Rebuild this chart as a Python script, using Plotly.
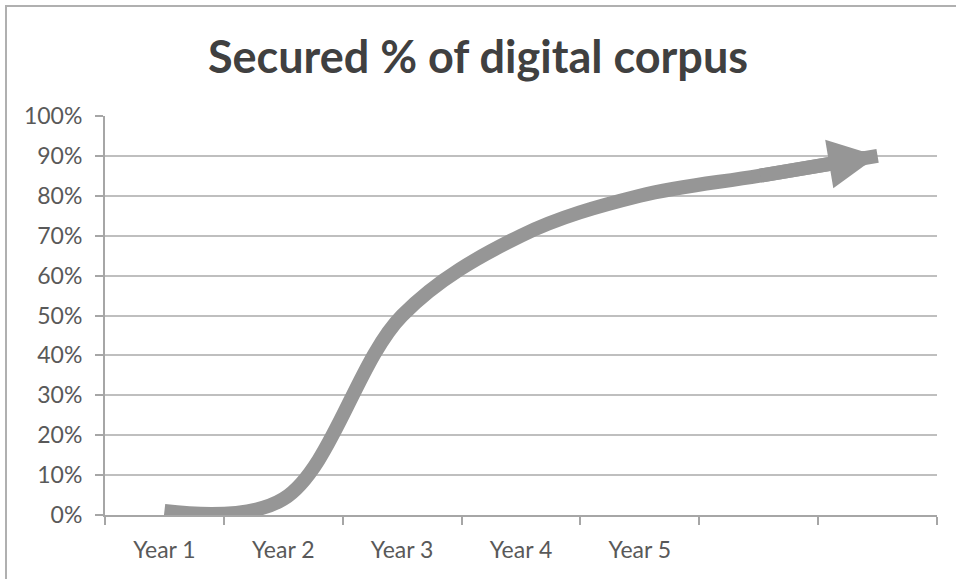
import plotly.graph_objects as go

categories = ["Year 1", "Year 2", "Year 3", "Year 4", "Year 5", " ", "  "]
secured = [0.01, 0.04, 0.50, 0.70, 0.80, 0.85, 0.90]
y_ticks = [i / 10 for i in range(11)]
title_text = "Secured % of digital corpus"

LINE_GRAY = "#969696"
GRID = "#bfbfbf"
AXIS = "#a6a6a6"
TXT = "#595959"
LINE_W = 14

n = len(secured)
backoffs = [0] * (n - 1) + [30]

fig = go.Figure()
fig.add_trace(go.Scatter(
    x=categories, y=secured, mode="lines",
    line=dict(color=LINE_GRAY, width=LINE_W, shape="spline", smoothing=1,
              backoff=backoffs),
    hoverinfo="skip", showlegend=False,
))

# arrowhead at the end of the series
fig.add_annotation(
    x=categories[-1], y=secured[-1], xref="x", yref="y",
    ax=categories[-2], ay=secured[-2], axref="x", ayref="y",
    text="", showarrow=True, arrowhead=2, arrowwidth=LINE_W,
    arrowsize=0.7, arrowcolor=LINE_GRAY,
)

PW, PH = 832, 399
fig.update_layout(
    width=956, height=579,
    margin=dict(l=105, r=19, t=116, b=64),
    paper_bgcolor="white", plot_bgcolor="white",
    title=dict(text=title_text, x=0.5, xref="container", xanchor="center",
               y=1 - 57 / 579, yref="container", yanchor="middle",
               font=dict(family="Lato", size=45, color="#404040", weight="bold")),
    font=dict(family="Lato", size=23, color=TXT),
    xaxis=dict(type="category", categoryorder="array", categoryarray=categories,
               range=[-0.5, n - 0.5], tickson="boundaries",
               showgrid=False, showline=True, linecolor=AXIS, linewidth=2,
               ticks="outside", ticklen=8, tickwidth=2, tickcolor=AXIS,
               ticklabelstandoff=13, zeroline=False,
               tickfont=dict(family="Lato", size=23, color=TXT)),
    yaxis=dict(range=[0, 1], tickvals=y_ticks, tickformat=".0%",
               showgrid=True, gridcolor=GRID, gridwidth=2,
               showline=True, linecolor=AXIS, linewidth=2,
               ticks="outside", ticklen=8, tickwidth=2, tickcolor=AXIS,
               ticklabelstandoff=8, zeroline=False,
               tickfont=dict(family="Lato", size=23, color=TXT)),
    shapes=[dict(type="rect", xref="paper", yref="paper",
                 x0=(6 - 105) / PW, x1=(970 - 105) / PW,
                 y0=(515 - 600) / PH, y1=(515 - 6) / PH,
                 line=dict(color="#b0b0b0", width=2), fillcolor="rgba(0,0,0,0)",
                 layer="below")],
)

fig.write_html("out.html", config={"displayModeBar": False},
               post_script="document.body.style.margin='0px';")
